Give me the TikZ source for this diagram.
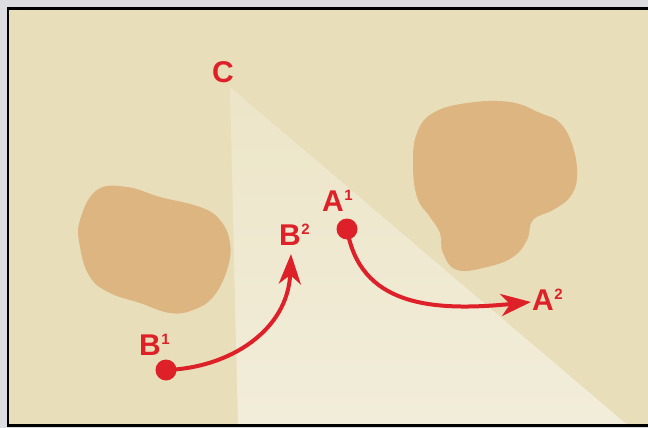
\documentclass[tikz,border=0pt]{standalone}
\usepackage{fontspec}
\setmainfont{Liberation Sans}
\usetikzlibrary{arrows.meta}
\definecolor{outergray}{RGB}{220,221,224}
\definecolor{sand}{RGB}{232,222,186}
\definecolor{lightsand}{RGB}{242,237,218}
\definecolor{lightsandtop}{RGB}{236,229,200}
\definecolor{blobcol}{RGB}{220,181,128}
\definecolor{mred}{RGB}{222,32,40}
\tikzset{
  lbl/.style={text=mred, font=\fontsize{30}{30}\selectfont\bfseries, inner sep=0pt, anchor=base west},
  sup/.style={text=mred, font=\fontsize{15}{15}\selectfont\bfseries, inner sep=0pt, anchor=base west},
  dot/.style={circle, fill=mred, minimum size=21pt, inner sep=0pt},
  move/.style={draw=mred, line width=4pt, -{Stealth[length=30pt,width=22pt,inset=9pt]}},
  blob/.style={fill=blobcol, draw=none},
}
\begin{document}
\begin{tikzpicture}[x=1pt,y=-1pt]
\useasboundingbox (0,0) rectangle (648,428);
% background and frame
\fill[outergray] (0,0) rectangle (648,428);
\fill[sand] (8,8) rectangle (648,425.5);
% light triangle
\shade[top color=lightsandtop, bottom color=lightsand] (230,87) -- (238,425.5) -- (628,425.5) -- cycle;
% blobs
\fill[blob] plot[smooth cycle, tension=0.7] coordinates {
 (433,113) (467,103) (510,102) (540,113) (560,123) (573,147) (577,177) (570,197)
 (553,210) (533,220) (527,240) (513,257) (487,267) (457,270) (443,253) (440,233)
 (430,217) (417,197) (413,163) (417,133)};
\fill[blob] plot[smooth cycle, tension=0.7] coordinates {
 (97,190) (127,187) (160,197) (200,207) (220,220) (230,243) (227,270) (213,297)
 (193,310) (170,313) (140,303) (110,293) (90,277) (80,247) (80,220)};
% frame lines
\draw[black, line width=2.5pt] (8,425.5) -- (8,8.5) -- (648,8.5);
\draw[black, line width=2.5pt] (6.75,425.5) -- (648,425.5);
% labels
\node[lbl] (C) at (212,82) {C};
\node[lbl] (B1) at (139,355) {B};
\node[sup] (B1s) at (B1.base east) [yshift=11pt] {1};
\node[lbl] (B2) at (279,245) {B};
\node[sup] (B2s) at (B2.base east) [yshift=11pt] {2};
\node[lbl] (A1) at (322,211) {A};
\node[sup] (A1s) at (A1.base east) [yshift=11pt] {1};
\node[lbl] (A2) at (532,310) {A};
\node[sup] (A2s) at (A2.base east) [yshift=11pt] {2};
% dots
\node[dot] (b1) at (166,370) {};
\node[dot] (a1) at (347,229) {};
\coordinate (b2) at (291,254);
\coordinate (a2) at (531,302);
% movement arrows
\draw[move] (b1.center) .. controls (230,368) and (288,330) .. (b2);
\draw[move] (a1.center) .. controls (360,305) and (430,312) .. (a2);
\end{tikzpicture}
\end{document}
